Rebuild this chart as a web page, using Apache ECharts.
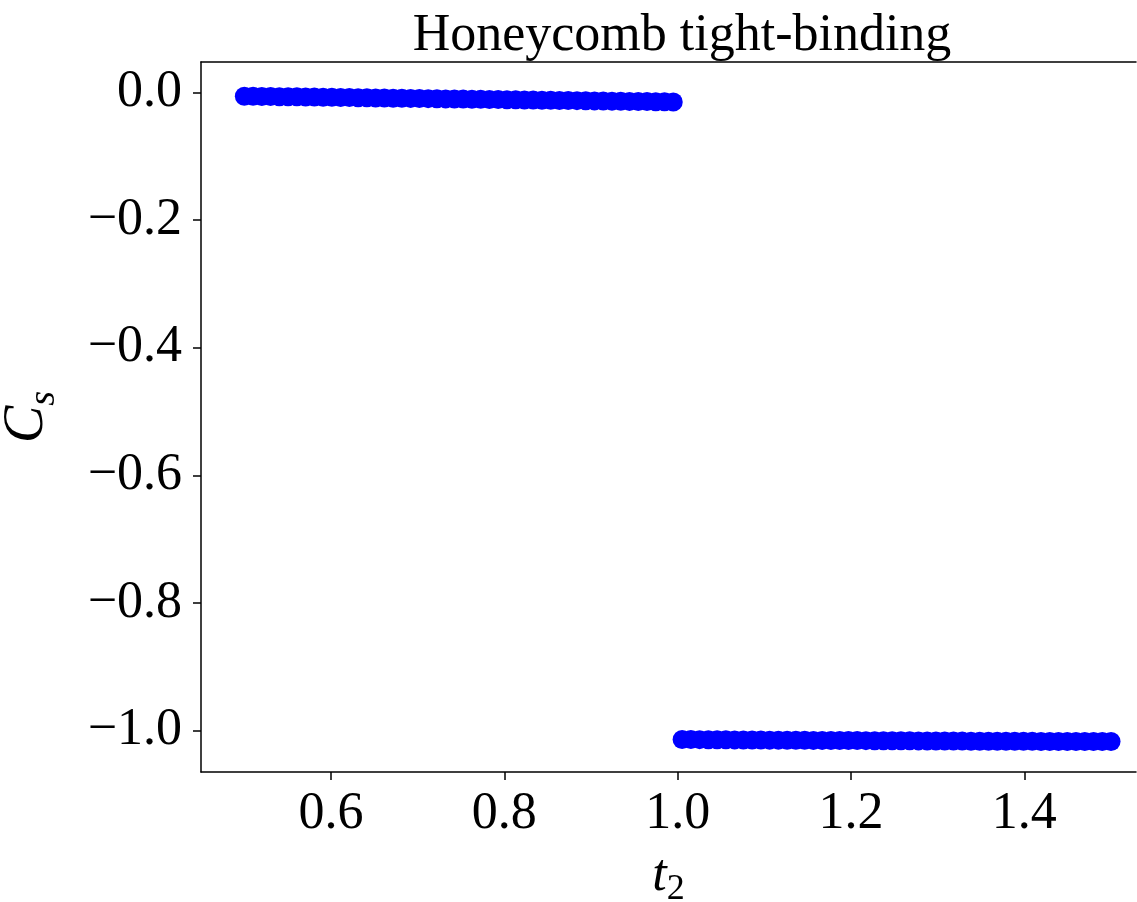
<!DOCTYPE html>
<html>
<head>
<meta charset="utf-8">
<script src="https://cdn.jsdelivr.net/npm/echarts@6/dist/echarts.min.js"></script>
<style>
  html, body { margin: 0; padding: 0; background: #ffffff; }
  #chart { width: 1137px; height: 902px; }
</style>
</head>
<body>
<div id="chart"></div>
<script>
// Hopping parameter t2 and spin Chern number C_s for the honeycomb model
const t2Values = [
  0.5000, 0.5101, 0.5202, 0.5303, 0.5404, 0.5505, 0.5606, 0.5707, 0.5808, 0.5909,
  0.6010, 0.6111, 0.6212, 0.6313, 0.6414, 0.6515, 0.6616, 0.6717, 0.6818, 0.6919,
  0.7020, 0.7121, 0.7222, 0.7323, 0.7424, 0.7525, 0.7626, 0.7727, 0.7828, 0.7929,
  0.8030, 0.8131, 0.8232, 0.8333, 0.8434, 0.8535, 0.8636, 0.8737, 0.8838, 0.8939,
  0.9040, 0.9141, 0.9242, 0.9343, 0.9444, 0.9545, 0.9646, 0.9747, 0.9848, 0.9949,
  1.0051, 1.0152, 1.0253, 1.0354, 1.0455, 1.0556, 1.0657, 1.0758, 1.0859, 1.0960,
  1.1061, 1.1162, 1.1263, 1.1364, 1.1465, 1.1566, 1.1667, 1.1768, 1.1869, 1.1970,
  1.2071, 1.2172, 1.2273, 1.2374, 1.2475, 1.2576, 1.2677, 1.2778, 1.2879, 1.2980,
  1.3081, 1.3182, 1.3283, 1.3384, 1.3485, 1.3586, 1.3687, 1.3788, 1.3889, 1.3990,
  1.4091, 1.4192, 1.4293, 1.4394, 1.4495, 1.4596, 1.4697, 1.4798, 1.4899, 1.5000
];

const csValues = [
  -0.0060, -0.0062, -0.0064, -0.0066, -0.0068, -0.0070, -0.0071, -0.0073, -0.0075, -0.0077,
  -0.0079, -0.0081, -0.0082, -0.0084, -0.0086, -0.0088, -0.0090, -0.0092, -0.0094, -0.0095,
  -0.0097, -0.0099, -0.0101, -0.0103, -0.0105, -0.0106, -0.0108, -0.0110, -0.0112, -0.0114,
  -0.0116, -0.0118, -0.0119, -0.0121, -0.0123, -0.0125, -0.0127, -0.0129, -0.0130, -0.0132,
  -0.0134, -0.0136, -0.0138, -0.0140, -0.0142, -0.0143, -0.0145, -0.0147, -0.0149, -0.0152,
  -1.0136, -1.0137, -1.0138, -1.0139, -1.0140, -1.0141, -1.0142, -1.0143, -1.0144, -1.0145,
  -1.0146, -1.0146, -1.0147, -1.0148, -1.0149, -1.0150, -1.0150, -1.0151, -1.0152, -1.0153,
  -1.0153, -1.0154, -1.0155, -1.0155, -1.0156, -1.0157, -1.0157, -1.0158, -1.0159, -1.0159,
  -1.0160, -1.0160, -1.0161, -1.0162, -1.0162, -1.0163, -1.0163, -1.0164, -1.0164, -1.0165,
  -1.0165, -1.0166, -1.0166, -1.0167, -1.0167, -1.0167, -1.0168, -1.0168, -1.0168, -1.0168
];

const xTicks = [0.6, 0.8, 1.0, 1.2, 1.4];
const yTicks = [0.0, -0.2, -0.4, -0.6, -0.8, -1.0];

const X_MIN = 0.45, X_MAX = 1.5288;
const Y_MIN = -1.0645, Y_MAX = 0.0475;

const FONT = '"Liberation Serif", "DejaVu Serif", serif';
const fmt = v => Number(v).toFixed(1).replace('-', '\u2212');

const points = t2Values.map((t, i) => [t, csValues[i]]);

const chart = echarts.init(document.getElementById('chart'), null, { renderer: 'canvas' });

const spine = { show: true, onZero: false, lineStyle: { color: '#000', width: 1.5 } };

chart.setOption({
  backgroundColor: '#ffffff',
  animation: false,
  title: {
    text: 'Honeycomb tight-binding',
    left: 677,
    top: 5,
    textAlign: 'center',
    textStyle: { fontFamily: FONT, fontSize: 52, fontWeight: 'normal', color: '#000' }
  },
  grid: {
    left: 201,
    top: 62,
    right: 1,
    height: 710,
    show: false,
    containLabel: false,
    outerBoundsMode: 'none'
  },
  xAxis: [{
    type: 'value',
    min: X_MIN,
    max: X_MAX,
    position: 'bottom',
    name: '{i|t}{sub|2}',
    nameLocation: 'middle',
    nameGap: 72,
    nameTextStyle: {
      rich: {
        i: { fontFamily: FONT, fontStyle: 'italic', fontSize: 52, color: '#000' },
        sub: { fontFamily: FONT, fontSize: 36, color: '#000', padding: [28, 0, 0, 0] }
      }
    },
    splitLine: { show: false },
    axisLine: spine,
    axisTick: { show: true, length: 8, lineStyle: { color: '#000', width: 1.5 }, customValues: xTicks },
    axisLabel: {
      customValues: xTicks,
      formatter: fmt,
      margin: 16,
      fontFamily: FONT,
      fontSize: 52,
      color: '#000'
    }
  }, {
    // top spine only
    type: 'value',
    min: X_MIN,
    max: X_MAX,
    position: 'top',
    splitLine: { show: false },
    axisLine: spine,
    axisTick: { show: false },
    axisLabel: { show: false }
  }],
  yAxis: {
    type: 'value',
    min: Y_MIN,
    max: Y_MAX,
    name: '{i|C}{sub|s}',
    nameLocation: 'middle',
    nameGap: 138,
    nameTextStyle: {
      rich: {
        i: { fontFamily: FONT, fontStyle: 'italic', fontSize: 56, color: '#000' },
        sub: { fontFamily: FONT, fontStyle: 'italic', fontSize: 38, color: '#000', padding: [34, 0, 0, 0] }
      }
    },
    splitLine: { show: false },
    axisLine: spine,
    axisTick: { show: true, length: 8, lineStyle: { color: '#000', width: 1.5 }, customValues: yTicks },
    axisLabel: {
      customValues: yTicks,
      formatter: fmt,
      margin: 19,
      fontFamily: FONT,
      fontSize: 52,
      color: '#000'
    }
  },
  series: [{
    type: 'scatter',
    xAxisIndex: 0,
    data: points,
    symbol: 'circle',
    symbolSize: 19,
    itemStyle: { color: '#0000ff', opacity: 1 },
    clip: false
  }]
});
</script>
</body>
</html>
